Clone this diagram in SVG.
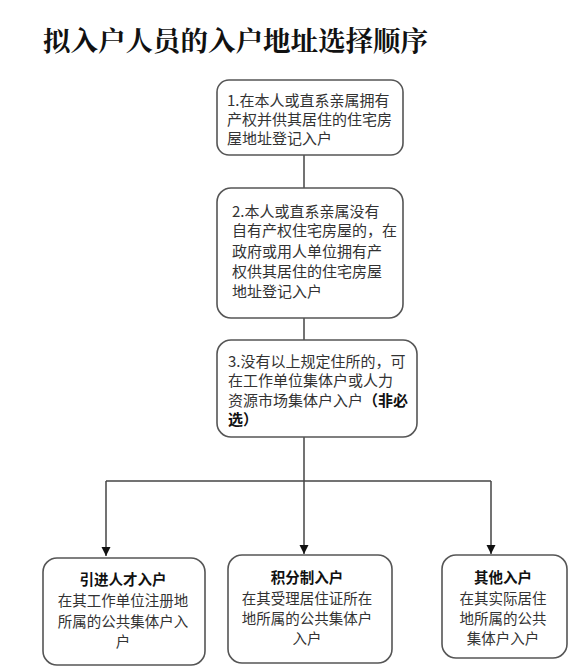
<svg xmlns="http://www.w3.org/2000/svg" width="578" height="668" viewBox="0 0 578 668">
<style>
.box{fill:#fff;stroke:#555;stroke-width:1.6}
.t{font-family:"Noto Sans CJK SC","Noto Sans",sans-serif;font-size:15px;fill:#333}
.c{text-anchor:middle;font-size:14.5px}
.b{font-weight:bold;fill:#111}
.title{font-family:"Noto Serif CJK SC","Noto Sans CJK SC",serif;font-size:27.5px;font-weight:bold;fill:#111}
.ln{stroke:#444;stroke-width:1.5;fill:none}
</style>
<defs>
<marker id="ah" markerWidth="10" markerHeight="10" refX="9" refY="5" orient="auto" markerUnits="userSpaceOnUse">
<path d="M0,0.5 L9,5 L0,9.5 Z" fill="#111"/>
</marker>
</defs>
<rect width="578" height="668" fill="#fff"/>
<text class="title" x="43" y="51">拟入户人员的入户地址选择顺序</text>
<g id="connectors">
<line class="ln" x1="304" y1="155" x2="304" y2="188"/>
<line class="ln" x1="304" y1="318" x2="304" y2="340"/>
<line class="ln" x1="304" y1="437" x2="304" y2="554" marker-end="url(#ah)"/>
<line class="ln" x1="106" y1="481" x2="491" y2="481"/>
<line class="ln" x1="106" y1="481" x2="106" y2="556" marker-end="url(#ah)"/>
<line class="ln" x1="491" y1="481" x2="491" y2="554" marker-end="url(#ah)"/>
</g>
<g id="n1">
<rect class="box" x="217" y="80" width="186" height="75" rx="12"/>
<text class="t" x="227" y="106">1.在本人或直系亲属拥有</text>
<text class="t" x="227" y="125">产权并供其居住的住宅房</text>
<text class="t" x="227" y="144">屋地址登记入户</text>
</g>
<g id="n2">
<rect class="box" x="217" y="188" width="186" height="130" rx="14"/>
<text class="t" x="232" y="217">2.本人或直系亲属没有</text>
<text class="t" x="232" y="236">自有产权住宅房屋的，在</text>
<text class="t" x="232" y="257">政府或用人单位拥有产</text>
<text class="t" x="232" y="277">权供其居住的住宅房屋</text>
<text class="t" x="232" y="297">地址登记入户</text>
</g>
<g id="n3">
<rect class="box" x="217" y="340" width="200" height="97" rx="14"/>
<text class="t" x="228" y="367">3.没有以上规定住所的，可</text>
<text class="t" x="228" y="386">在工作单位集体户或人力</text>
<text class="t" x="228" y="406">资源市场集体户入户<tspan class="b">（非必</tspan></text>
<text class="t b" x="228" y="425">选）</text>
</g>
<g id="n4">
<rect class="box" x="43" y="558" width="162" height="107" rx="14"/>
<text class="t c b" x="123" y="585">引进人才入户</text>
<text class="t c" x="123" y="606">在其工作单位注册地</text>
<text class="t c" x="123" y="627">所属的公共集体户入</text>
<text class="t c" x="123" y="647">户</text>
</g>
<g id="n5">
<rect class="box" x="228" y="555" width="164" height="108" rx="14"/>
<text class="t c b" x="307" y="583">积分制入户</text>
<text class="t c" x="307" y="604">在其受理居住证所在</text>
<text class="t c" x="307" y="624">地所属的公共集体户</text>
<text class="t c" x="307" y="644">入户</text>
</g>
<g id="n6">
<rect class="box" x="442" y="555" width="125" height="103" rx="14"/>
<text class="t c b" x="503" y="583">其他入户</text>
<text class="t c" x="503" y="604">在其实际居住</text>
<text class="t c" x="503" y="624">地所属的公共</text>
<text class="t c" x="503" y="644">集体户入户</text>
</g>
</svg>
